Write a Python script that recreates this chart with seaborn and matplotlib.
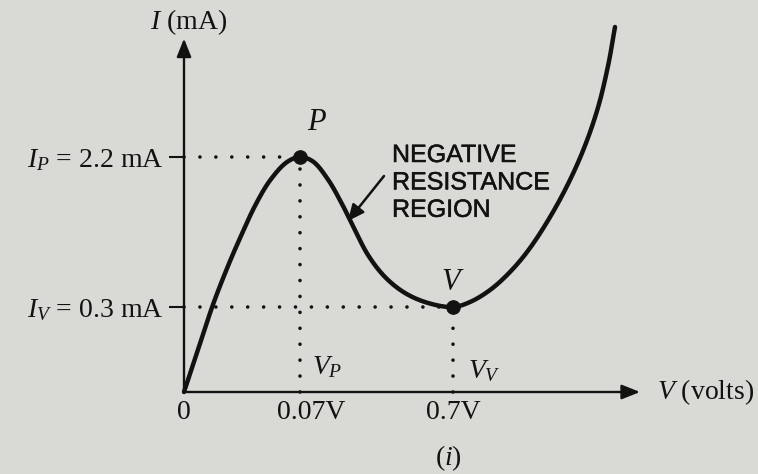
import numpy as np
import matplotlib
matplotlib.use("Agg")
import matplotlib.pyplot as plt
import matplotlib.patheffects as pe
from matplotlib.transforms import ScaledTranslation
import seaborn as sns

# Tunnel diode I-V characteristic (schematic, axes not to scale)
voltage_v = [0.0, 0.0084, 0.0174, 0.0263, 0.0341, 0.0431, 0.0521, 0.0622, 0.07,
             0.1235, 0.1853, 0.2429, 0.2882, 0.350, 0.420, 0.5024, 0.5971, 0.70,
             0.7273, 0.7594, 0.7914, 0.8235, 0.8668, 0.9037, 0.9310, 0.9487, 0.9599]
current_ma = [0.0, 0.148, 0.325, 0.807, 1.187, 1.592, 1.909, 2.137, 2.2,
              2.143, 1.915, 1.605, 1.326, 0.959, 0.680, 0.477, 0.351, 0.3,
              0.363, 0.515, 0.743, 1.047, 1.592, 2.187, 2.783, 3.353, 3.847]

peak_v, peak_ma = 0.07, 2.2
valley_v, valley_ma = 0.7, 0.3
v_axis_end, i_axis_end = 1.0, 3.7

x_ticks = [0.0, 0.07, 0.7]
x_tick_labels = ["0", "0.07V", "0.7V"]
y_ticks = [0.3, 2.2]
y_tick_labels = [r"$I_V$ = 0.3 mA", r"$I_P$ = 2.2 mA"]

INK = "#121212"
PAPER = "#d9d9d6"

# Piecewise-linear scales: the textbook sketch stretches the small voltages
X_KNOTS = ([0.0, 0.07, 0.7, 1.0], [184, 300, 453, 640])
Y_KNOTS = ([0.0, 0.3, 2.2], [82, 167, 317])


def piecewise(vals, src, dst):
    vals = np.asarray(vals, dtype=float)
    out = np.interp(vals, src, dst)
    lo = (dst[1] - dst[0]) / (src[1] - src[0])
    hi = (dst[-1] - dst[-2]) / (src[-1] - src[-2])
    out = np.where(vals < src[0], dst[0] + (vals - src[0]) * lo, out)
    out = np.where(vals > src[-1], dst[-1] + (vals - src[-1]) * hi, out)
    return out


def x_fwd(v):
    return piecewise(v, *X_KNOTS)


def x_inv(p):
    return piecewise(p, X_KNOTS[1], X_KNOTS[0])


def y_fwd(v):
    return piecewise(v, *Y_KNOTS)


def y_inv(p):
    return piecewise(p, Y_KNOTS[1], Y_KNOTS[0])


def centripetal_spline(px, py, n=20, alpha=0.5):
    """Centripetal Catmull-Rom curve through the given display points."""
    pts = np.column_stack([px, py]).astype(float)
    pts = np.vstack([2 * pts[0] - pts[1], pts, 2 * pts[-1] - pts[-2]])
    out = []
    for i in range(1, len(pts) - 2):
        p0, p1, p2, p3 = pts[i - 1], pts[i], pts[i + 1], pts[i + 2]
        t0 = 0.0
        t1 = t0 + np.linalg.norm(p1 - p0) ** alpha
        t2 = t1 + np.linalg.norm(p2 - p1) ** alpha
        t3 = t2 + np.linalg.norm(p3 - p2) ** alpha
        t = np.linspace(t1, t2, n, endpoint=False)[:, None]
        a1 = (t1 - t) / (t1 - t0) * p0 + (t - t0) / (t1 - t0) * p1
        a2 = (t2 - t) / (t2 - t1) * p1 + (t - t1) / (t2 - t1) * p2
        a3 = (t3 - t) / (t3 - t2) * p2 + (t - t2) / (t3 - t2) * p3
        b1 = (t2 - t) / (t2 - t0) * a1 + (t - t0) / (t2 - t0) * a2
        b2 = (t3 - t) / (t3 - t1) * a2 + (t - t1) / (t3 - t1) * a3
        out.append((t2 - t) / (t2 - t1) * b1 + (t - t1) / (t2 - t1) * b2)
    out.append(pts[-2][None, :])
    return np.vstack(out)


sns.set_theme(style="white")
plt.rcParams["font.family"] = ["Liberation Serif", "DejaVu Serif"]
plt.rcParams["mathtext.fontset"] = "custom"
plt.rcParams["mathtext.rm"] = "Liberation Serif"
plt.rcParams["mathtext.it"] = "Liberation Serif:italic"

W, H = 758, 474
SERIF_SIZE = 20
fig = plt.figure(figsize=(W / 100, H / 100), dpi=100)
fig.patch.set_facecolor(PAPER)
ax = fig.add_axes([0, 0, 1, 1])
ax.set_facecolor(PAPER)
ax.set_xscale("function", functions=(x_fwd, x_inv))
ax.set_yscale("function", functions=(y_fwd, y_inv))
ax.set_xlim(float(x_inv(0)), float(x_inv(W)))
ax.set_ylim(float(y_inv(0)), float(y_inv(H)))

# smooth characteristic curve through the measured points
smooth = centripetal_spline(x_fwd(voltage_v), y_fwd(current_ma))
sns.lineplot(x=x_inv(smooth[:, 0]), y=y_inv(smooth[:, 1]), sort=False,
             estimator=None, color=INK, lw=3.2, ax=ax, zorder=4)

# dotted guide lines to the peak and valley points
dot = dict(color=INK, lw=2.6, ls=(0, (0.01, 4.4)), dash_capstyle="round", zorder=3)
ax.plot([0, peak_v], [peak_ma, peak_ma], **dot)
ax.plot([peak_v, peak_v], [0, peak_ma], **dot)
ax.plot([0, valley_v], [valley_ma, valley_ma], **dot)
ax.plot([valley_v, valley_v], [0, valley_ma], **dot)

sns.scatterplot(x=[peak_v, valley_v], y=[peak_ma, valley_ma], s=95,
                color=INK, edgecolor=INK, ax=ax, zorder=5)

# axes with arrowheads
arrow = dict(arrowstyle="-|>,head_length=0.55,head_width=0.22", lw=1.7,
             color=INK, shrinkA=0, shrinkB=0, mutation_scale=20)
ax.annotate("", xy=(v_axis_end, 0), xytext=(0, 0), arrowprops=arrow, zorder=6)
ax.annotate("", xy=(0, i_axis_end), xytext=(0, 0), arrowprops=arrow, zorder=6)

for side in ax.spines.values():
    side.set_visible(False)
ax.spines["left"].set_position(("data", 0))
ax.spines["bottom"].set_position(("data", 0))

ax.set_yticks(y_ticks, labels=y_tick_labels)
ax.set_xticks(x_ticks, labels=x_tick_labels)
ax.minorticks_off()
ax.tick_params(axis="y", left=True, direction="out", length=11, width=1.5,
               pad=4, labelsize=SERIF_SIZE, color=INK, labelcolor=INK)
ax.tick_params(axis="x", bottom=True, length=0, pad=6, labelsize=SERIF_SIZE,
               labelcolor=INK)
mid_label = ax.get_xticklabels()[1]
mid_label.set_transform(mid_label.get_transform()
                        + ScaledTranslation(8 / 72, 0, fig.dpi_scale_trans))

# point and axis names
ax.annotate("P", xy=(peak_v, peak_ma), xytext=(12, 25), textcoords="offset points",
            ha="center", va="center", fontsize=22, style="italic", color=INK)
ax.annotate("V", xy=(valley_v, valley_ma), xytext=(-2, 18), textcoords="offset points",
            ha="center", va="center", fontsize=22, style="italic", color=INK)
ax.annotate(r"$V_P$", xy=(peak_v, 0), xytext=(9, 18), textcoords="offset points",
            ha="left", va="center", fontsize=SERIF_SIZE, color=INK)
ax.annotate(r"$V_V$", xy=(valley_v, 0), xytext=(11, 15), textcoords="offset points",
            ha="left", va="center", fontsize=SERIF_SIZE, color=INK)
ax.annotate(r"$I$ (mA)", xy=(0, i_axis_end), xytext=(3, 12), textcoords="offset points",
            ha="center", va="center", fontsize=SERIF_SIZE, color=INK)
ax.annotate(r"$V$ (volts)", xy=(v_axis_end, 0), xytext=(12, 0), textcoords="offset points",
            ha="left", va="center", fontsize=SERIF_SIZE, color=INK)
fig.text(448 / W, 1 - 458 / H, r"($i$)", ha="center", va="center",
         fontsize=SERIF_SIZE, color=INK)

# negative-resistance callout
ax.annotate("NEGATIVE\nRESISTANCE\nREGION", xy=(392, H - 143), xycoords="figure pixels",
            ha="left", va="top", fontsize=18, family="Liberation Sans", color=INK,
            linespacing=1.18,
            path_effects=[pe.withStroke(linewidth=0.35, foreground=INK)])
ax.annotate("", xy=(348, H - 221), xytext=(384, H - 176), xycoords="figure pixels",
            textcoords="figure pixels",
            arrowprops=dict(arrowstyle="-|>,head_length=0.65,head_width=0.3", lw=1.8,
                            color=INK, shrinkA=0, shrinkB=0, mutation_scale=15))

fig.savefig("out.png", dpi=100, facecolor=PAPER)
